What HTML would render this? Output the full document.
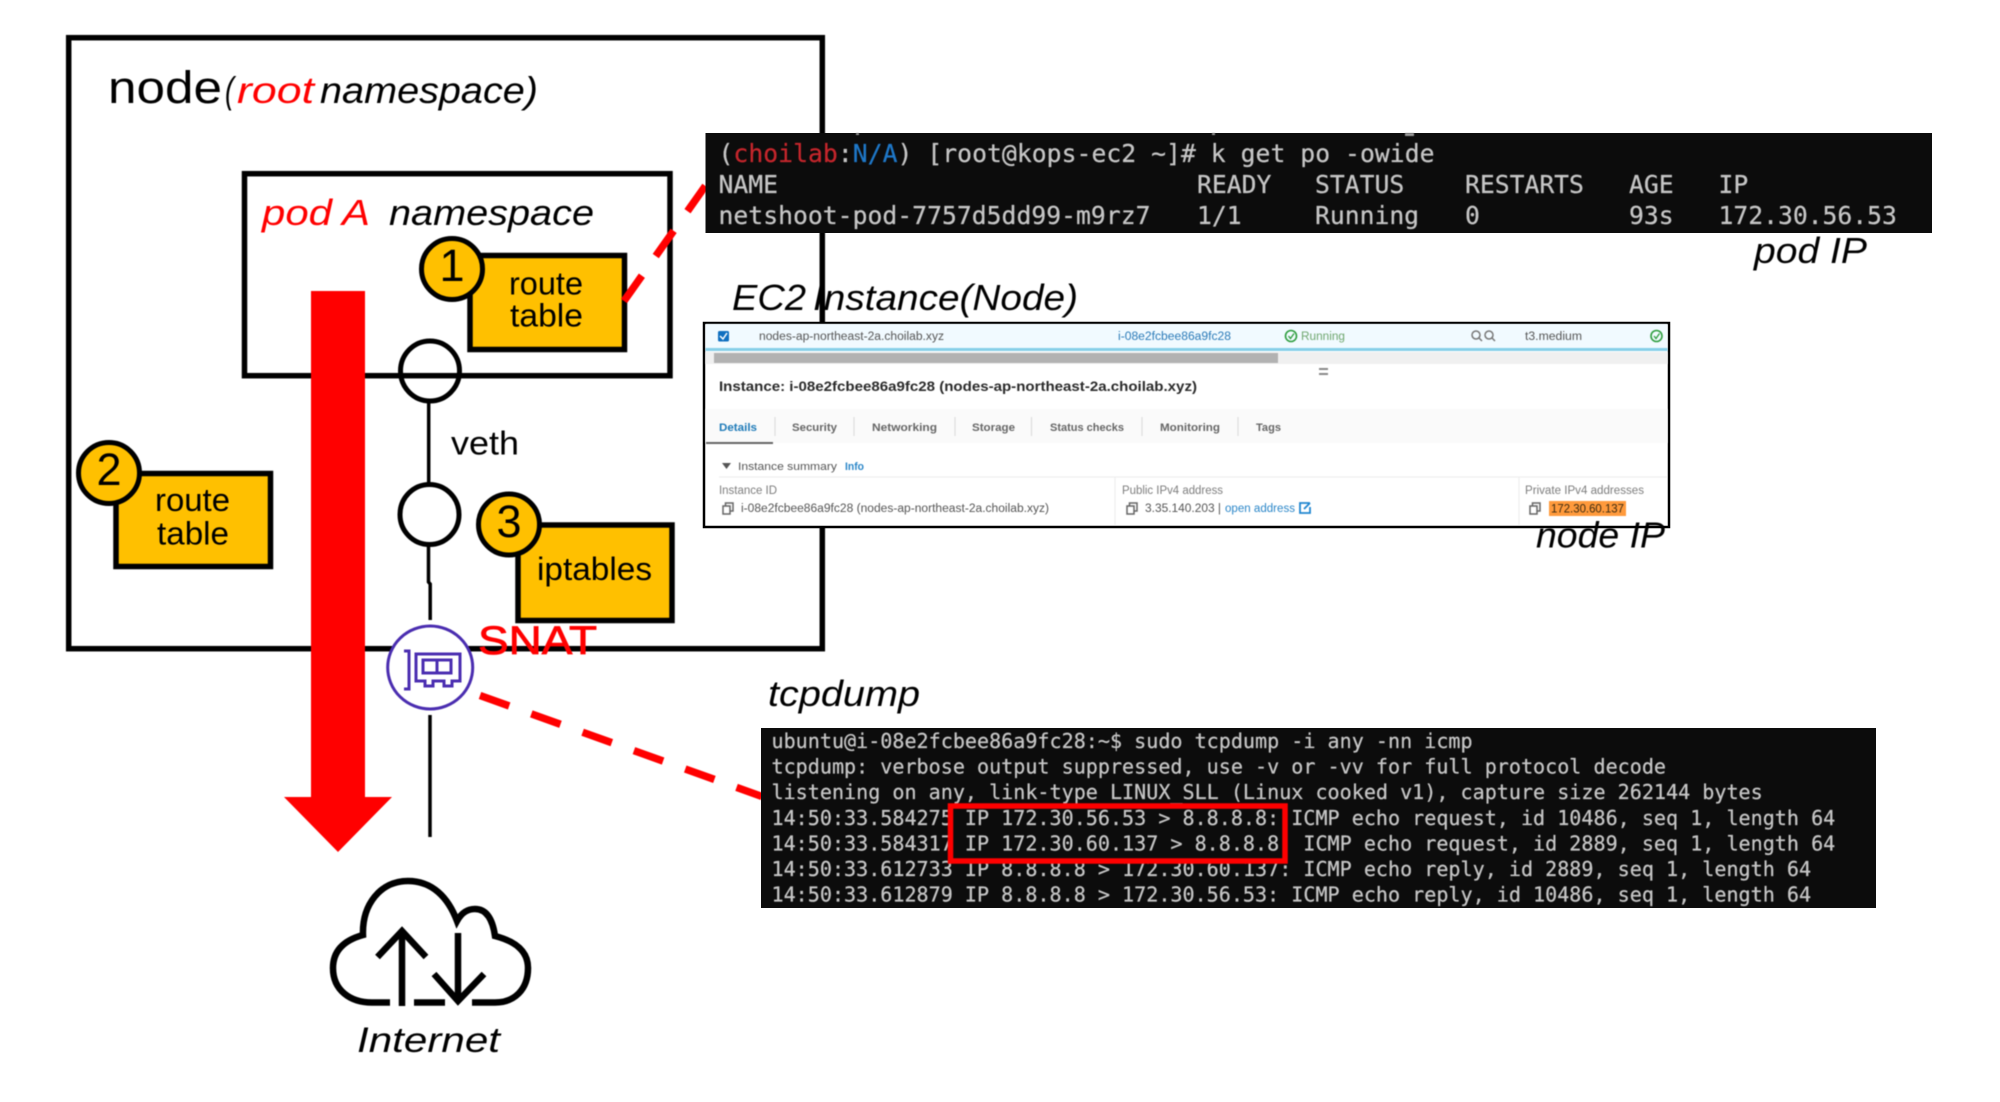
<!DOCTYPE html>
<html>
<head>
<meta charset="utf-8">
<title>Pod SNAT diagram</title>
<style>
html,body{margin:0;padding:0;background:#fff;width:2000px;height:1102px;overflow:hidden}
svg{display:block;position:absolute;left:0;top:0}
text{font-family:"Liberation Sans",sans-serif;fill:#000;white-space:pre}
.soft{filter:blur(.55px)}
.m{font-family:"DejaVu Sans Mono","Liberation Mono",monospace;fill:#c6c6c6;stroke:#c6c6c6;stroke-width:.25}
.t1{font-size:24.7px}
.t2{font-size:20.08px}
.i{font-style:italic}
.g{fill:#666;font-weight:bold;font-size:11px}
.s{fill:#7d7d7d;font-size:11.5px}
.d{fill:#555;font-size:11.5px}
.ico{fill:none;stroke:#666;stroke-width:1.5}
</style>
</head>
<body>
<svg width="2000" height="1102" viewBox="0 0 2000 1102" xmlns="http://www.w3.org/2000/svg">
<rect width="2000" height="1102" fill="#fff"/>
<g class="soft">
<!-- node box -->
<rect x="68.7" y="37.7" width="753.6" height="611" fill="none" stroke="#000" stroke-width="5.5"/>
<text x="108" y="103" font-size="45" textLength="114" lengthAdjust="spacingAndGlyphs">node</text>
<text class="i" x="225" y="103" font-size="37" textLength="9" lengthAdjust="spacingAndGlyphs">(</text>
<text class="i" x="237" y="103" font-size="37" textLength="77" lengthAdjust="spacingAndGlyphs" style="fill:#f00">root</text>
<text class="i" x="320" y="103" font-size="37" textLength="218" lengthAdjust="spacingAndGlyphs">namespace)</text>

<!-- pod box -->
<rect x="244.5" y="173.7" width="425.5" height="202" fill="none" stroke="#000" stroke-width="5.5"/>
<text class="i" x="262" y="225" font-size="36" textLength="108" lengthAdjust="spacingAndGlyphs" style="fill:#f00">pod A</text>
<text class="i" x="389" y="225" font-size="36" textLength="205" lengthAdjust="spacingAndGlyphs">namespace</text>

<!-- route table 1 -->
<rect x="470" y="255.5" width="154.5" height="94" fill="#ffc000" stroke="#000" stroke-width="5.5"/>
<circle cx="452" cy="269" r="30.5" fill="#ffc000" stroke="#000" stroke-width="5"/>
<text x="452" y="281" font-size="45" text-anchor="middle">1</text>
<text x="509" y="294.500" font-size="32" textLength="74" lengthAdjust="spacingAndGlyphs">route</text>
<text x="510" y="326.500" font-size="32" textLength="73" lengthAdjust="spacingAndGlyphs">table</text>

<!-- route table 2 -->
<rect x="116" y="473.5" width="154.5" height="93" fill="#ffc000" stroke="#000" stroke-width="5.5"/>
<circle cx="109" cy="473" r="30.5" fill="#ffc000" stroke="#000" stroke-width="5"/>
<text x="109" y="485" font-size="45" text-anchor="middle">2</text>
<text x="155" y="511" font-size="32" textLength="75" lengthAdjust="spacingAndGlyphs">route</text>
<text x="157" y="544.500" font-size="32" textLength="72" lengthAdjust="spacingAndGlyphs">table</text>

<!-- veth -->
<line x1="428.7" y1="400" x2="428.7" y2="484" stroke="#000" stroke-width="3.5"/>
<ellipse cx="430" cy="371" rx="29.5" ry="30" fill="none" stroke="#000" stroke-width="5"/>
<ellipse cx="429.5" cy="514.500" rx="29.5" ry="30" fill="#fff" stroke="#000" stroke-width="5"/>
<text x="451" y="454.500" font-size="33" textLength="68" lengthAdjust="spacingAndGlyphs">veth</text>
<path d="M428.5 544V582L430.2 584V620" fill="none" stroke="#000" stroke-width="3.5"/>

<!-- iptables -->
<rect x="518" y="525" width="154" height="95.5" fill="#ffc000" stroke="#000" stroke-width="5.5"/>
<circle cx="509" cy="524.5" r="30.5" fill="#ffc000" stroke="#000" stroke-width="5"/>
<text x="509" y="537" font-size="45" text-anchor="middle">3</text>
<text x="537" y="580" font-size="32" textLength="115" lengthAdjust="spacingAndGlyphs">iptables</text>

<!-- dashed red 1 -->
<line x1="624" y1="301" x2="706" y2="185" stroke="#f00" stroke-width="7.5" stroke-dasharray="31 24"/>

<!-- red arrow -->
<path d="M311 291H365V797H392L338 852L284 797H311Z" fill="#f00"/>

<!-- NIC -->
<line x1="430" y1="715" x2="430" y2="837" stroke="#000" stroke-width="3.5"/>
<ellipse cx="430.2" cy="667.5" rx="42.5" ry="41.5" fill="#fff" stroke="#4a2db0" stroke-width="3"/>
<g fill="none" stroke="#4a2db0" stroke-width="3">
<path d="M404 651H409V689H404"/>
<path d="M416 654H460V681H452V686H444V681H433V686H425V681H416Z"/>
<rect x="423" y="660" width="28" height="13"/>
<line x1="437" y1="660" x2="437" y2="673"/>
</g>
<text x="478" y="654" font-size="40" textLength="119" lengthAdjust="spacingAndGlyphs" style="fill:#f00;stroke:#f00;stroke-width:.8">SNAT</text>

<!-- dashed red 2 -->
<line x1="480" y1="695.5" x2="762" y2="796.5" stroke="#f00" stroke-width="7.5" stroke-dasharray="31 23.5"/>

<!-- cloud -->
<g fill="none" stroke="#000" stroke-width="6.5">
<path d="M390 1002.5H372C350 1002.5 333 990 333 968C333 950 345 940 363 935C362 905 380 881 408 881C432 881 448 897 457 921C462 912 468 909 475 909C488 909 493 922 495 936C514 941 528 950 528 968C528 990 514 1002.5 495 1002.5H472"/>
<line x1="414" y1="1002.5" x2="445" y2="1002.5"/>
<line x1="402" y1="1006" x2="402" y2="933"/>
<path d="M377.5 957L402 931L426 957"/>
<line x1="458" y1="933" x2="458" y2="998"/>
<path d="M434 974L458 1001L484 974"/>
</g>
<text class="i" x="357" y="1052" font-size="35" textLength="143" lengthAdjust="spacingAndGlyphs">Internet</text>

<!-- Labels -->
<text class="i" x="1754" y="263" font-size="36" textLength="113" lengthAdjust="spacingAndGlyphs">pod IP</text>
<text class="i" x="732" y="310" font-size="36" textLength="74" lengthAdjust="spacingAndGlyphs">EC2</text>
<text class="i" x="813" y="310" font-size="36" textLength="265" lengthAdjust="spacingAndGlyphs">Instance(Node)</text>
<text class="i" x="768" y="706" font-size="36" textLength="152" lengthAdjust="spacingAndGlyphs">tcpdump</text>
</g>

<!-- terminal 1 -->
<rect x="705.5" y="133" width="1226.5" height="100" fill="#0c0c0c"/>
<g class="soft">
<rect x="856" y="133" width="3" height="2" fill="#999"/>
<rect x="1212" y="133" width="3" height="2" fill="#999"/>
<rect x="1405" y="133" width="9" height="3" fill="#999"/>
<text class="m t1" x="718.500" y="162" textLength="716"><tspan>(</tspan><tspan style="fill:#c5262c;stroke:#c5262c">choilab</tspan><tspan>:</tspan><tspan style="fill:#1f78c8;stroke:#1f78c8">N/A</tspan><tspan>) [root@kops-ec2 ~]# k get po -owide</tspan></text>
<text class="m t1" x="718.500" y="193">NAME</text>
<text class="m t1" x="1197" y="193">READY</text>
<text class="m t1" x="1315" y="193">STATUS</text>
<text class="m t1" x="1465" y="193">RESTARTS</text>
<text class="m t1" x="1629" y="193">AGE</text>
<text class="m t1" x="1718.500" y="193">IP</text>
<text class="m t1" x="718.500" y="224" textLength="432">netshoot-pod-7757d5dd99-m9rz7</text>
<text class="m t1" x="1197" y="224">1/1</text>
<text class="m t1" x="1315" y="224">Running</text>
<text class="m t1" x="1465" y="224">0</text>
<text class="m t1" x="1629" y="224">93s</text>
<text class="m t1" x="1718.500" y="224">172.30.56.53</text>
</g>

<!-- EC2 panel -->
<rect x="704" y="323" width="965" height="204" fill="#fff" stroke="#000" stroke-width="2.5"/>
<g class="soft">
<rect x="705.5" y="324" width="962" height="24" fill="#f1faff"/>
<rect x="705.5" y="348" width="962" height="3" fill="#86cfe8"/>
<rect x="705.5" y="352" width="962" height="12" fill="#f0f0f0"/>
<rect x="714" y="353" width="564" height="10" fill="#b2b2b2"/>
<rect x="718" y="331" width="11" height="10.5" rx="1.5" fill="#0f6fc0"/>
<path d="M720 336L723 339L727 333" fill="none" stroke="#fff" stroke-width="1.5"/>
<text class="d" x="759" y="340" textLength="185" lengthAdjust="spacingAndGlyphs">nodes-ap-northeast-2a.choilab.xyz</text>
<text class="d" x="1118" y="340" textLength="113" lengthAdjust="spacingAndGlyphs" style="fill:#2a7ab8">i-08e2fcbee86a9fc28</text>
<circle cx="1291" cy="336" r="5.5" fill="none" stroke="#2e9e3f" stroke-width="1.6"/>
<path d="M1288.5 336L1290.5 338.5L1294 333.5" fill="none" stroke="#2e9e3f" stroke-width="1.3"/>
<text class="d" x="1301" y="340" textLength="44" lengthAdjust="spacingAndGlyphs" style="fill:#6fa76f">Running</text>
<g fill="none" stroke="#777" stroke-width="1.5"><circle cx="1476" cy="335" r="4"/><line x1="1479" y1="338" x2="1482" y2="341"/><circle cx="1489" cy="335" r="4"/><line x1="1492" y1="338" x2="1495" y2="341"/></g>
<text class="d" x="1525" y="340" textLength="57" lengthAdjust="spacingAndGlyphs">t3.medium</text>
<circle cx="1656.5" cy="336" r="5.5" fill="none" stroke="#2e9e3f" stroke-width="1.6"/>
<path d="M1654 336L1656 338.5L1659.5 333.5" fill="none" stroke="#2e9e3f" stroke-width="1.3"/>
<rect x="1319" y="368" width="9" height="2" fill="#888"/><rect x="1319" y="373" width="9" height="2" fill="#888"/>
<text x="719" y="391" font-size="14" font-weight="bold" textLength="478" lengthAdjust="spacingAndGlyphs" style="fill:#2a2a2a">Instance: i-08e2fcbee86a9fc28 (nodes-ap-northeast-2a.choilab.xyz)</text>
<rect x="705.5" y="409" width="962" height="34" fill="#fafafa"/>
<rect x="706" y="442" width="67" height="2" fill="#666"/>
<text class="g" x="719" y="431" textLength="38" lengthAdjust="spacingAndGlyphs" style="fill:#1d7ab8">Details</text>
<text class="g" x="792" y="431" textLength="45" lengthAdjust="spacingAndGlyphs">Security</text>
<text class="g" x="872" y="431" textLength="65" lengthAdjust="spacingAndGlyphs">Networking</text>
<text class="g" x="972" y="431" textLength="43" lengthAdjust="spacingAndGlyphs">Storage</text>
<text class="g" x="1050" y="431" textLength="74" lengthAdjust="spacingAndGlyphs">Status checks</text>
<text class="g" x="1160" y="431" textLength="60" lengthAdjust="spacingAndGlyphs">Monitoring</text>
<text class="g" x="1256" y="431" textLength="25" lengthAdjust="spacingAndGlyphs">Tags</text>
<g stroke="#ddd" stroke-width="1.2"><line x1="775" y1="417" x2="775" y2="436"/><line x1="854" y1="417" x2="854" y2="436"/><line x1="955" y1="417" x2="955" y2="436"/><line x1="1031.5" y1="417" x2="1031.5" y2="436"/><line x1="1142" y1="417" x2="1142" y2="436"/><line x1="1238" y1="417" x2="1238" y2="436"/></g>
<path d="M722 463H731L726.5 469Z" fill="#555"/>
<text class="g" x="738" y="470" textLength="99" lengthAdjust="spacingAndGlyphs" style="font-weight:normal;fill:#555">Instance summary</text>
<text class="g" x="845" y="470" textLength="19" lengthAdjust="spacingAndGlyphs" style="fill:#2a86c8">Info</text>
<g stroke="#eee" stroke-width="1.2"><line x1="719" y1="477" x2="1667" y2="477"/><line x1="1115" y1="477" x2="1115" y2="525"/><line x1="1519" y1="477" x2="1519" y2="525"/></g>
<text class="s" x="719" y="494" textLength="58" lengthAdjust="spacingAndGlyphs">Instance ID</text>
<text class="s" x="1122" y="494" textLength="101" lengthAdjust="spacingAndGlyphs">Public IPv4 address</text>
<text class="s" x="1525" y="494" textLength="119" lengthAdjust="spacingAndGlyphs">Private IPv4 addresses</text>
<path class="ico" d="M723 506H730V514H723ZM725.500 506V503H733V511H730"/>
<text class="d" x="741" y="512" textLength="308" lengthAdjust="spacingAndGlyphs">i-08e2fcbee86a9fc28 (nodes-ap-northeast-2a.choilab.xyz)</text>
<path class="ico" d="M1127 506H1134V514H1127ZM1129.500 506V503H1137V511H1134"/>
<text class="d" x="1145" y="512" textLength="76" lengthAdjust="spacingAndGlyphs">3.35.140.203 |</text>
<text class="d" x="1225" y="512" textLength="70" lengthAdjust="spacingAndGlyphs" style="fill:#2a86c8">open address</text>
<path d="M1310 503H1300V513H1310V507M1304 509L1310 503" fill="none" stroke="#1f86d0" stroke-width="1.8"/>
<path class="ico" d="M1530 506H1537V514H1530ZM1532.500 506V503H1540V511H1537"/>
<rect x="1549" y="501" width="77" height="15" fill="#ff9a3c"/>
<text x="1551" y="512.500" font-size="11.500" textLength="73" lengthAdjust="spacingAndGlyphs" style="fill:#3a2a10">172.30.60.137</text>
</g>
<text class="i soft" x="1536" y="547.500" font-size="36" textLength="129" lengthAdjust="spacingAndGlyphs">node IP</text>

<!-- terminal 2 -->
<rect x="761" y="728" width="1115" height="180" fill="#0c0c0c"/>
<g class="soft">
<text class="m t2" x="771.500" y="748">ubuntu@i-08e2fcbee86a9fc28:~$ sudo tcpdump -i any -nn icmp</text>
<text class="m t2" x="771.500" y="773.600">tcpdump: verbose output suppressed, use -v or -vv for full protocol decode</text>
<text class="m t2" x="771.500" y="799.200">listening on any, link-type LINUX_SLL (Linux cooked v1), capture size 262144 bytes</text>
<text class="m t2" x="771.500" y="825">14:50:33.584275 IP 172.30.56.53 &gt; 8.8.8.8: ICMP echo request, id 10486, seq 1, length 64</text>
<text class="m t2" x="771.500" y="850.500">14:50:33.584317 IP 172.30.60.137 &gt; 8.8.8.8  ICMP echo request, id 2889, seq 1, length 64</text>
<text class="m t2" x="771.500" y="876">14:50:33.612733 IP 8.8.8.8 &gt; 172.30.60.137: ICMP echo reply, id 2889, seq 1, length 64</text>
<text class="m t2" x="771.500" y="901.500">14:50:33.612879 IP 8.8.8.8 &gt; 172.30.56.53: ICMP echo reply, id 10486, seq 1, length 64</text>
<rect x="950.500" y="806" width="334.500" height="55" fill="none" stroke="#f00" stroke-width="5.500"/>
</g>
</svg>
</body>
</html>
